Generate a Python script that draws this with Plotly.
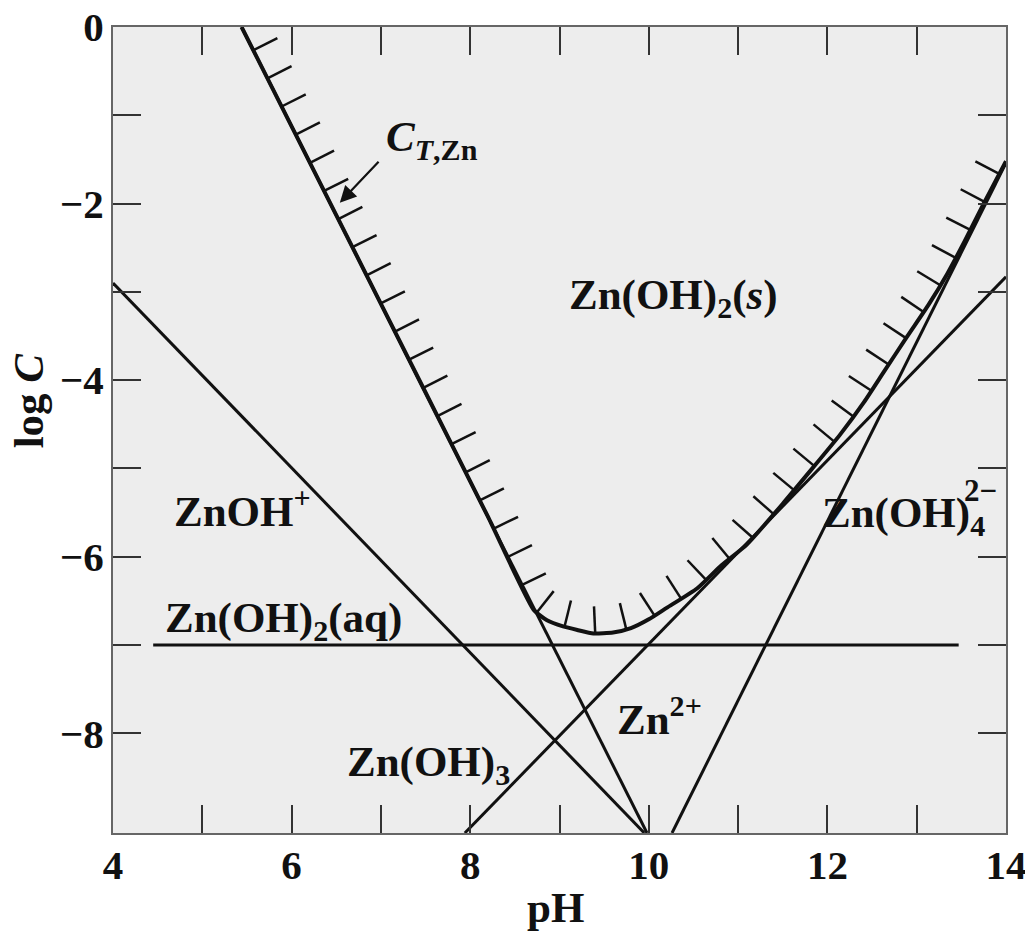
import numpy as np
import plotly.graph_objects as go

# axis extents (pH, log C)
x_range = [4, 14]
y_range = [-9.13, 0]

x_ticks = [4, 5, 6, 7, 8, 9, 10, 11, 12, 13, 14]
x_ticktext = ["4", "", "6", "", "8", "", "10", "", "12", "", "14"]
y_ticks = [0, -1, -2, -3, -4, -5, -6, -7, -8]
y_ticktext = ["0", "", "\u22122", "", "\u22124", "", "\u22126", "", "\u22128"]

# species lines, endpoints
zn_ph = [5.44, 9.98]
zn_logc = [0.0, -9.13]
znoh_ph = [4.0, 9.95]
znoh_logc = [-2.9, -9.13]
znoh2aq_ph = [4.45, 13.47]
znoh2aq_logc = [-7.0, -7.0]
znoh3_ph = [7.94, 14.0]
znoh3_logc = [-9.13, -2.83]
znoh4_ph = [10.26, 14.0]
znoh4_logc = [-9.13, -1.54]

# total dissolved zinc C_T,Zn (solubility boundary)
ct_ph = [5.44, 6.5, 7.5, 8.2, 8.71, 8.86, 9.04, 9.2, 9.38, 9.6, 9.8, 10.0,
         10.2, 10.54, 10.8, 11.1, 11.5, 12.14, 12.41, 12.63, 12.89, 13.13,
         13.34, 13.53, 13.75, 14.0]
ct_logc = [0.0, -2.13, -4.14, -5.55, -6.60, -6.72, -6.79, -6.83, -6.87,
           -6.86, -6.81, -6.71, -6.58, -6.36, -6.11, -5.86, -5.40, -4.62,
           -4.25, -3.91, -3.51, -3.15, -2.80, -2.44, -2.00, -1.52]

# page body has an 8px margin, so the figure is a bit smaller than the window
W, H = 1025, 924
margin = dict(l=105, r=27, t=19, b=99)
plot_w = W - margin["l"] - margin["r"]
plot_h = H - margin["t"] - margin["b"]

ink = "#111111"

# hatch marks on the solid side of the C_T curve, spaced evenly in screen space
sx = plot_w / (x_range[1] - x_range[0])
sy = plot_h / (y_range[1] - y_range[0])
cx = np.array(ct_ph) * sx
cy = -np.array(ct_logc) * sy
dx, dy = np.diff(cx), np.diff(cy)
seg = np.hypot(dx, dy)
s = np.concatenate([[0], np.cumsum(seg)])
hs = np.arange(26, s[-1] - 5, 31.5)
hx = np.interp(hs, s, cx)
hy = np.interp(hs, s, cy)
k = np.clip(np.searchsorted(s, hs) - 1, 0, len(seg) - 1)
nx, ny = dy[k] / seg[k], -dx[k] / seg[k]
hatch_len = 27
hatch_x, hatch_y = [], []
for x0, y0, ux, uy in zip(hx, hy, nx, ny):
    hatch_x += [x0 / sx, (x0 + ux * hatch_len) / sx, None]
    hatch_y += [-y0 / sy, -(y0 + uy * hatch_len) / sy, None]

fig = go.Figure()

for xs, ys in [(zn_ph, zn_logc), (znoh_ph, znoh_logc), (znoh2aq_ph, znoh2aq_logc),
               (znoh3_ph, znoh3_logc), (znoh4_ph, znoh4_logc)]:
    fig.add_trace(go.Scatter(x=xs, y=ys, mode="lines",
                             line=dict(color=ink, width=3), showlegend=False))

fig.add_trace(go.Scatter(x=ct_ph, y=ct_logc, mode="lines",
                         line=dict(color=ink, width=4, shape="spline", smoothing=0.5),
                         showlegend=False))
fig.add_trace(go.Scatter(x=hatch_x, y=hatch_y, mode="lines",
                         line=dict(color=ink, width=2.5), showlegend=False))

lab_font = dict(family="Liberation Serif", size=43, color=ink, weight="bold")
labels = [
    ("Zn(OH)<sub>2</sub>(<i>s</i>)", 9.08, -3.07),
    ("ZnOH<sup>+</sup>", 4.66, -5.45),
    ("Zn(OH)<sub>2</sub>(aq)", 4.56, -6.73),
    ("Zn(OH)<sub>3</sub>", 6.6, -8.36),
    ("Zn<sup>2+</sup>", 9.62, -7.80),
    ("Zn(OH)<sub>4</sub>", 11.92, -5.54),
    ("<i>C</i><sub><i>T</i>,Zn</sub>", 7.04, -1.28),
]
for txt, x, y in labels:
    fig.add_annotation(x=x, y=y, text=txt, showarrow=False, xanchor="left",
                       yanchor="middle", font=lab_font)
fig.add_annotation(x=13.92, y=-5.54, text="2\u2212", showarrow=False,
                   xanchor="right", yanchor="middle", yshift=26,
                   font=dict(family="Liberation Serif", size=31, color=ink, weight="bold"))

# arrow pointing at the C_T curve
fig.add_annotation(x=6.54, y=-1.99, ax=6.99, ay=-1.51, axref="x", ayref="y",
                   text="", showarrow=True, arrowhead=2, arrowsize=1.5,
                   arrowwidth=2.2, arrowcolor=ink)

# axis titles
fig.add_annotation(xref="paper", yref="paper", x=0.495, y=-0.093, text="pH",
                   xanchor="center", yanchor="middle", showarrow=False, font=lab_font)
fig.add_annotation(xref="paper", yref="paper", x=-0.095, y=0.537,
                   text="log <i>C</i>", textangle=-90, xanchor="center",
                   yanchor="middle", showarrow=False, font=lab_font)

axis_style = dict(showline=True, linecolor="#666666", linewidth=2, mirror="ticks",
                  ticks="inside", ticklen=28, tickwidth=2, tickcolor="#333333",
                  showgrid=False, zeroline=False, automargin=False,
                  ticklabeloverflow="allow",
                  tickfont=dict(family="Liberation Serif", size=41, color=ink, weight="bold"))

fig.update_xaxes(range=x_range, tickvals=x_ticks, ticktext=x_ticktext,
                 ticklabelstandoff=-5, **axis_style)
fig.update_yaxes(range=y_range, tickvals=y_ticks, ticktext=y_ticktext,
                 ticklabelstandoff=-1, **axis_style)

fig.update_layout(width=W, height=H, margin=margin,
                  plot_bgcolor="#ededed", paper_bgcolor="white",
                  showlegend=False)

fig.write_html("out.html")
